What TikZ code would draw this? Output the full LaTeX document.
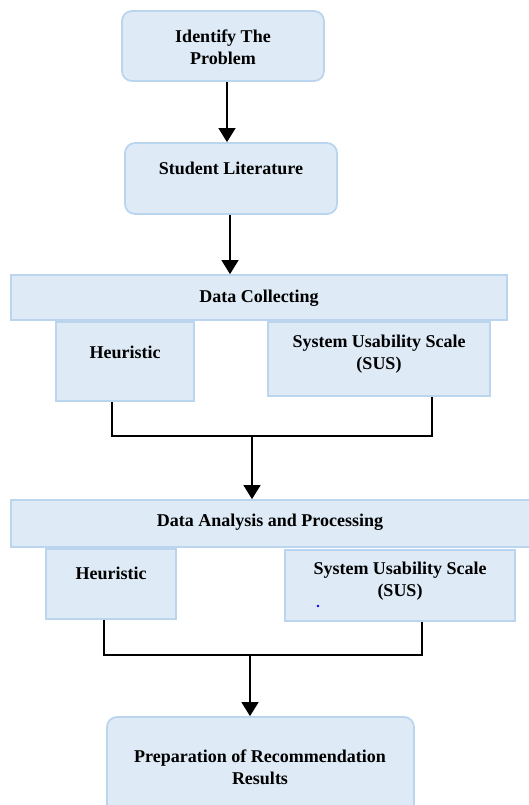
\documentclass[tikz,border=0pt]{standalone}
\usepackage{fontspec}
\setmainfont{Liberation Serif}
\usetikzlibrary{arrows.meta,calc}
\definecolor{boxfill}{HTML}{DEEAF6}
\definecolor{boxline}{HTML}{BBD5EE}
\begin{document}
\begin{tikzpicture}[x=1pt,y=-1pt,
  box/.style={draw=boxline, fill=boxfill, line width=1.8pt, inner sep=0pt},
  rbox/.style={box, rounded corners=10pt},
  txt/.style={font=\bfseries\fontsize{18}{22}\selectfont, align=center, inner sep=0pt},
  arr/.style={line width=1.4pt, -{Triangle[length=14pt,width=17pt]}},
  ln/.style={line width=1.2pt}]
\clip (0,0) rectangle (529,805);
\fill[white] (0,0) rectangle (529,805);
% boxes
\node[rbox, minimum width=202pt, minimum height=70pt] (b1) at (223,46) {};
\node[rbox, minimum width=212pt, minimum height=71pt] (b2) at (231,178.5) {};
\node[box, minimum width=496pt, minimum height=45pt] (dc) at (259,297.5) {};
\node[box, minimum width=138pt, minimum height=79pt] (h1) at (125,361.5) {};
\node[box, minimum width=222pt, minimum height=74pt] (s1) at (379,359) {};
\node[box, minimum width=520pt, minimum height=47pt] (da) at (271,523.5) {};
\node[box, minimum width=130pt, minimum height=70pt] (h2) at (111,584) {};
\node[box, minimum width=230pt, minimum height=71pt] (s2) at (400,585.5) {};
\node[rbox, minimum width=307pt, minimum height=103pt] (fin) at (260.5,768.5) {};
% texts
\node[txt] (t1) at (223,47) {Identify The\\Problem};
\node[txt] (t2) at (231,168) {Student Literature};
\node[txt] (tdc) at (259,298) {Data Collecting};
\node[txt] (th1) at (125,352) {Heuristic};
\node[txt] (ts1) at (379,354) {System Usability Scale\\(SUS)};
\node[txt] (tda) at (270,522) {Data Analysis and Processing};
\node[txt] (th2) at (111,573) {Heuristic};
\node[txt] (ts2) at (400,581) {System Usability Scale\\(SUS)};
\node[txt] (tfin) at (260,767) {Preparation of Recommendation\\Results};
\fill[blue] (318,606) circle (1.4);
% connectors
\coordinate (m1) at (252,436);
\coordinate (m2) at (250,655);
\draw[arr] ([xshift=4pt]b1.south) -- ([xshift=-4pt]b2.north);
\draw[arr] ([xshift=-1pt]b2.south) -- ([xshift=-29pt]dc.north);
\draw[ln] ([xshift=-13pt]h1.south) |- (m1) -| ([xshift=53pt]s1.south);
\draw[arr] (m1) -- (da.north -| m1);
\draw[ln] ([xshift=-7pt]h2.south) |- (m2) -| ([xshift=22pt]s2.south);
\draw[arr] (m2) -- (fin.north -| m2);
\end{tikzpicture}
\end{document}
